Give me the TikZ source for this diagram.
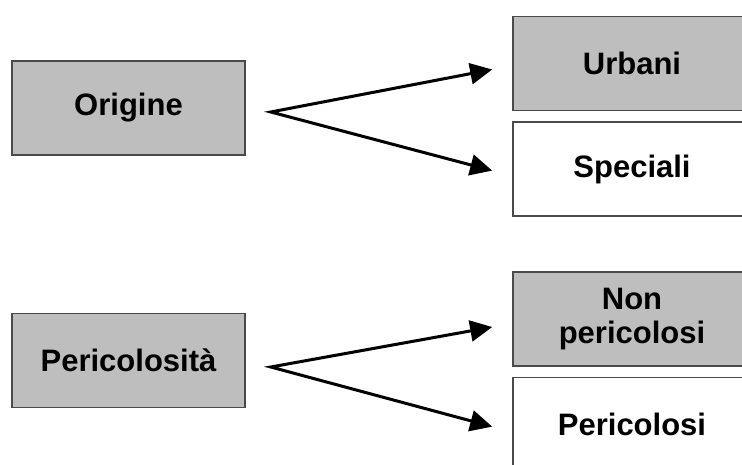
\documentclass[tikz,border=0pt]{standalone}
\usepackage{fontspec}
\setmainfont{Liberation Sans}
\usepackage{tikz}
\usetikzlibrary{arrows.meta,positioning}

\definecolor{boxgray}{HTML}{BEBEBE}
\definecolor{edgegray}{HTML}{4A4A4A}

\tikzset{
  box/.style={draw=edgegray, line width=1.6pt, minimum width=233pt, minimum height=94pt,
    inner sep=0pt, align=center, font=\fontsize{31}{34}\selectfont\bfseries},
  grey/.style={box, fill=boxgray},
  plain/.style={box, fill=white},
  fork/.style={{Triangle[length=22pt,width=21pt]}-{Triangle[length=22pt,width=21pt]},
    line width=3pt, line join=miter}
}

\begin{document}
\begin{tikzpicture}[x=1pt, y=-1pt]
  \clip (0,0) rectangle (742,464);
  \fill[white] (0,0) rectangle (742,464);
  % left column
  \node[grey] (orig) at (128.5,108) {Origine};
  \node[grey] (peric) at (128.5,360.5) {Pericolosità};
  % right column
  \node[grey, minimum width=238pt] (urb) at (632,63.5) {Urbani};
  \node[plain, minimum width=238pt, below=10pt of urb] (spec) {Speciali};
  \node[grey, minimum width=238pt] (nonper) at (632,319) {Non\\pericolosi};
  \node[plain, minimum width=238pt, below=10pt of nonper] (per) {Pericolosi};
  % forks
  \coordinate (fork1) at ([xshift=25pt,yshift=-4pt]orig.east);
  \coordinate (fork2) at ([xshift=25pt,yshift=-6.5pt]peric.east);
  \draw[fork] ([xshift=-20pt,yshift=-6pt]urb.west) -- (fork1) -- ([xshift=-20pt,yshift=-1.5pt]spec.west);
  \draw[fork] ([xshift=-20pt,yshift=-8pt]nonper.west) -- (fork2) -- ([xshift=-20pt,yshift=-2pt]per.west);
\end{tikzpicture}
\end{document}
